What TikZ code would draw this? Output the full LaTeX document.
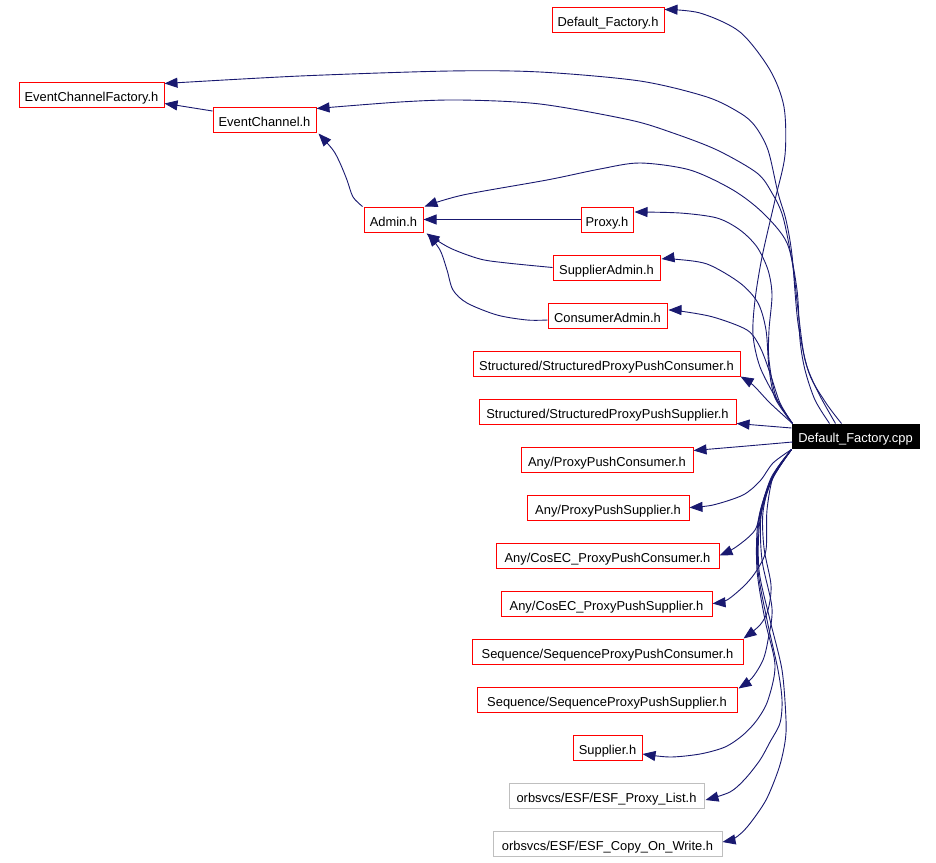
\documentclass[tikz,border=0pt]{standalone}
\usepackage{fontspec}
\setmainfont{Liberation Sans}
\usetikzlibrary{arrows.meta,calc}
\definecolor{edgeblue}{RGB}{25,25,112}
\definecolor{boxred}{RGB}{255,0,0}
\definecolor{boxgrey}{RGB}{191,191,191}
\begin{document}
\begin{tikzpicture}[x=1pt,y=-1pt,
  box/.style={draw=boxred, line width=1pt, minimum height=25pt, inner sep=0pt,
    text height=14pt, text depth=0pt,
    font=\fontsize{12.9}{15}\selectfont, text=black},
  greybox/.style={box, draw=boxgrey},
  mainbox/.style={box, draw=black, fill=black, text=white, minimum height=24pt, text height=13pt},
  dep/.style={draw=edgeblue, line width=0.9pt, -{Triangle[length=13pt,width=10pt]}}]
\useasboundingbox[fill=white] (0,0) rectangle (936,862);

% nodes
\node[box, minimum width=112pt] (dfh) at (608,19.5) {Default\_Factory.h};
\node[box, minimum width=145pt] (ecf) at (91.5,94.5) {EventChannelFactory.h};
\node[box, minimum width=103pt] (ec) at (264.5,119.5) {EventChannel.h};
\node[box, minimum width=59pt] (admin) at (393.5,219.5) {Admin.h};
\node[box, minimum width=52pt] (proxy) at (607,219.5) {Proxy.h};
\node[box, minimum width=107pt] (sadmin) at (606.5,267.5) {SupplierAdmin.h};
\node[box, minimum width=119pt] (cadmin) at (607.5,315.5) {ConsumerAdmin.h};
\node[box, minimum width=267pt] (spc) at (606.5,363.5) {Structured/StructuredProxyPushConsumer.h};
\node[box, minimum width=257pt] (sps) at (607.5,411.5) {Structured/StructuredProxyPushSupplier.h};
\node[mainbox, minimum width=127pt] (cpp) at (855.5,436) {Default\_Factory.cpp};
\node[box, minimum width=172pt] (appc) at (607,459.5) {Any/ProxyPushConsumer.h};
\node[box, minimum width=162pt] (apps) at (608,507.5) {Any/ProxyPushSupplier.h};
\node[box, minimum width=223pt] (cppc) at (607.5,555.5) {Any/CosEC\_ProxyPushConsumer.h};
\node[box, minimum width=211pt] (cpps) at (606.5,603.5) {Any/CosEC\_ProxyPushSupplier.h};
\node[box, minimum width=271pt] (sqpc) at (607.5,651.5) {Sequence/SequenceProxyPushConsumer.h};
\node[box, minimum width=260pt] (sqps) at (607,699.5) {Sequence/SequenceProxyPushSupplier.h};
\node[box, minimum width=69pt] (sup) at (607.5,747.5) {Supplier.h};
\node[greybox, minimum width=195pt] (esfpl) at (606.5,795.5) {orbsvcs/ESF/ESF\_Proxy\_List.h};
\node[greybox, minimum width=229pt] (esfcow) at (607.5,843.5) {orbsvcs/ESF/ESF\_Copy\_On\_Write.h};

% start / end coordinates
\coordinate (tl) at ($(cpp.north west)+(1,0)$);
\coordinate (bl) at ($(cpp.south west)+(0,1)$);

% edges between headers
\draw[dep] ($(ec.north west)+(0,4.5)$) .. controls (195,108) .. ($(ecf.south east)+(0,-4)$);
\draw[dep] plot[smooth] coordinates {($(admin.north west)+(-1,0)$) (353,197) (347,180) (340,163) (333,150) ($(ec.south east)+(2,1)$)};
\draw[dep] (proxy.west) -- (admin.east);
\draw[dep] plot[smooth] coordinates {(sadmin.west) (507,263) (480,259) (450,248) ($(admin.south east)+(3,1)$)};
\draw[dep] plot[smooth] coordinates {($(cadmin.west)+(0,4.5)$) (527,320) (497,315) (467,303) (453,290) (447,270) (440,250) ($(admin.south east)+(4,1)$)};

% edges from Default_Factory.cpp, upper part
\draw[dep] plot[smooth] coordinates {(tl) (777,400) (760,367) (753,335) (755,300) (762,257) (775,200) (785,155) (784,107) (770,70) (740,32) (700,13) ($(dfh.north east)+(0,3)$)};
\draw[dep] plot[smooth] coordinates {($(cpp.north west)+(50,0)$) (826,403) (809,373) (798,323) (792,255) (786,220) (778,193) (768,150) (755,126) (740,113) (707,97) (640,81) (540,72) (450,71) (300,76) ($(ecf.north east)+(0,2)$)};
\draw[dep] plot[smooth] coordinates {($(cpp.north west)+(44,0)$) (818,392) (805,360) (798,310) (793,267) (783,217) (772,193) (757,173) (717,150) (673,133) (630,120) (540,104) (460,100) (400,102) ($(ec.north east)+(0,2)$)};
\draw[dep] plot[smooth] coordinates {($(cpp.north west)+(38,0)$) (815,400) (805,370) (800,340) (797,290) (787,243) (763,213) (733,190) (690,170) (640,163) (600,169) (547,180) (463,195) ($(admin.north east)+(1,0)$)};
\draw[dep] plot[smooth] coordinates {(tl) (776,397) (769,360) (769,330) (772,295) (768,270) (757,247) (740,230) (717,218) (680,213) ($(proxy.east)+(1,-7.5)$)};
\draw[dep] plot[smooth] coordinates {(tl) (775,398) (769,368) (766,330) (758,303) (740,283) (707,264) (673,259) ($(sadmin.east)+(1,-8.5)$)};
\draw[dep] plot[smooth] coordinates {(tl) (780,403) (770,373) (760,347) (747,330) (713,317) (680,311) ($(cadmin.east)+(1,-5.5)$)};
\draw[dep] plot[smooth] coordinates {(tl) (770,403) (753,385) (spc.south east)};

% middle
\draw[dep] ($(cpp.west)+(0,-8)$) -- ($(sps.south east)+(0,-1)$);
\draw[dep] ($(cpp.west)+(1,6)$) .. controls (747,446) .. ($(appc.north east)+(0,4)$);

% edges from Default_Factory.cpp, lower part
\draw[dep] plot[smooth] coordinates {(bl) (773,463) (760,481) (743,495) (713,505) (apps.east)};
\draw[dep] plot[smooth] coordinates {(bl) (772,476) (762,505) (755,530) (736,547) (cppc.east)};
\draw[dep] plot[smooth] coordinates {(bl) (774,474) (767,510) (766,550) (757,570) (745,585) (727,600) (cpps.east)};
\draw[dep] plot[smooth] coordinates {(bl) (772,478) (763,512) (764,548) (771,585) (768,610) (760,625) (sqpc.north east)};
\draw[dep] plot[smooth] coordinates {(bl) (771,480) (761,516) (762,560) (772,608) (768,640) (763,660) (752,678) ($(sqps.north east)+(1,2)$)};
\draw[dep] plot[smooth] coordinates {(bl) (770,482) (758,522) (757,570) (765,620) (775,665) (768,700) (757,720) (743,735) (725,747) (700,754) (670,757) ($(sup.east)+(0,6.5)$)};
\draw[dep] plot[smooth] coordinates {(bl) (771,481) (759,521) (758,570) (767,620) (778,670) (782,700) (780,723) (770,742) (760,760) (745,779) (730,792) ($(esfpl.east)+(1,4.5)$)};
\draw[dep] plot[smooth] coordinates {(bl) (772,480) (760,520) (759,570) (770,620) (782,670) (786,720) (785,742) (779,768) (766,800) (748,826) (735,838) ($(esfcow.east)+(0,-1.5)$)};
\end{tikzpicture}
\end{document}
